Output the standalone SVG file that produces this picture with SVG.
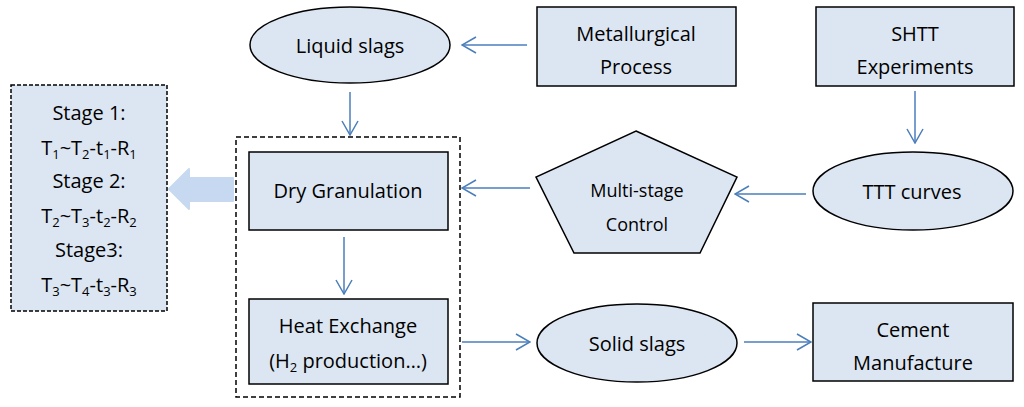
<svg xmlns="http://www.w3.org/2000/svg" width="1024" height="407" viewBox="0 0 1024 407">
<style>
.n{fill:#dce6f2;stroke:#000;stroke-width:1.5}
.d{fill:none;stroke:#000;stroke-width:1.5;stroke-dasharray:5,3}
.c{fill:none;stroke:#4a7ebb;stroke-width:1.5;marker-end:url(#ah)}
text{font-family:"Open Sans","Noto Sans",sans-serif;font-size:20px;fill:#000;text-anchor:middle}
.s{font-size:18px}
.sub{font-size:13px}
</style>
<defs>
<marker id="ah" viewBox="0 0 16 18" refX="15" refY="9" markerWidth="16" markerHeight="18" markerUnits="userSpaceOnUse" orient="auto">
<path d="M1,1 L15,9 L1,17" fill="none" stroke="#4a7ebb" stroke-width="1.5"/>
</marker>
</defs>
<rect width="1024" height="407" fill="#fff"/>
<g id="stages">
<rect x="11" y="85" width="156" height="226" fill="#dce6f2" stroke="#000" stroke-width="1.5" stroke-dasharray="4,2"/>
<text x="89" y="120">Stage 1:</text>
<text x="89" y="155">T<tspan class="sub" dy="4">1</tspan><tspan dy="-4">~T</tspan><tspan class="sub" dy="4">2</tspan><tspan dy="-4">-t</tspan><tspan class="sub" dy="4">1</tspan><tspan dy="-4">-R</tspan><tspan class="sub" dy="4">1</tspan></text>
<text x="89" y="188">Stage 2:</text>
<text x="89" y="223">T<tspan class="sub" dy="4">2</tspan><tspan dy="-4">~T</tspan><tspan class="sub" dy="4">3</tspan><tspan dy="-4">-t</tspan><tspan class="sub" dy="4">2</tspan><tspan dy="-4">-R</tspan><tspan class="sub" dy="4">2</tspan></text>
<text x="89" y="257">Stage3:</text>
<text x="89" y="292">T<tspan class="sub" dy="4">3</tspan><tspan dy="-4">~T</tspan><tspan class="sub" dy="4">4</tspan><tspan dy="-4">-t</tspan><tspan class="sub" dy="4">3</tspan><tspan dy="-4">-R</tspan><tspan class="sub" dy="4">3</tspan></text>
</g>
<g id="bigarrow">
<polygon points="169,189 189,169 189,178 233,178 233,201 189,201 189,209" fill="#c6d9f1" stroke="#c6d9f1" stroke-width="2" stroke-linejoin="round"/>
</g>
<g id="container">
<rect class="d" x="236" y="137" width="224" height="260"/>
</g>
<g id="liquid">
<ellipse class="n" cx="350" cy="45" rx="100" ry="38"/>
<text x="350" y="53">Liquid slags</text>
</g>
<g id="metallurgical">
<rect class="n" x="537" y="7" width="199" height="79"/>
<text x="636" y="41">Metallurgical</text>
<text x="636" y="74">Process</text>
</g>
<g id="shtt">
<rect class="n" x="816" y="7" width="198" height="79"/>
<text x="915" y="41">SHTT</text>
<text x="915" y="74">Experiments</text>
</g>
<g id="dry">
<rect class="n" x="249" y="152" width="199" height="78"/>
<text x="348" y="198">Dry Granulation</text>
</g>
<g id="heat">
<rect class="n" x="249" y="299" width="199" height="85"/>
<text x="348" y="333">Heat Exchange</text>
<text x="348" y="368">(H<tspan class="sub" dy="4">2</tspan><tspan dy="-4"> production…)</tspan></text>
</g>
<g id="multistage">
<polygon class="n" points="636,131 737,177 700,253 574,253 536,177"/>
<text class="s" x="637" y="197">Multi-stage</text>
<text class="s" x="637" y="231">Control</text>
</g>
<g id="ttt">
<ellipse class="n" cx="913" cy="191" rx="100" ry="39"/>
<text x="912" y="199">TTT curves</text>
</g>
<g id="solid">
<ellipse class="n" cx="637" cy="343" rx="100" ry="39"/>
<text x="637" y="351">Solid slags</text>
</g>
<g id="cement">
<rect class="n" x="813" y="303" width="200" height="78"/>
<text x="913" y="337">Cement</text>
<text x="913" y="370">Manufacture</text>
</g>
<g id="connectors">
<line class="c" x1="527" y1="45" x2="462" y2="45"/>
<line class="c" x1="350" y1="92" x2="350" y2="135"/>
<line class="c" x1="915" y1="91" x2="915" y2="143"/>
<line class="c" x1="806" y1="194" x2="735" y2="194"/>
<line class="c" x1="530" y1="188" x2="462" y2="188"/>
<line class="c" x1="344" y1="237" x2="344" y2="294"/>
<line class="c" x1="462" y1="342" x2="530" y2="342"/>
<line class="c" x1="744" y1="342" x2="811" y2="342"/>
</g>
</svg>
